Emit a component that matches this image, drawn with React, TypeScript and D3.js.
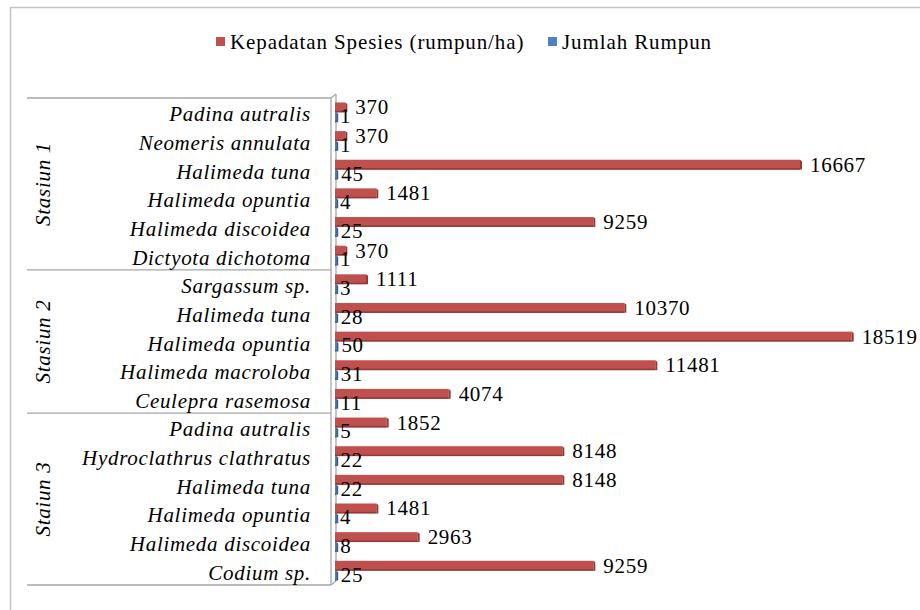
import { useEffect, useRef } from 'react';
import * as d3 from 'd3';

// Data (top to bottom)
const groups = ['Stasiun 1', 'Stasiun 2', 'Staiun 3'];
const groupSizes = [6, 5, 6];
const species = [
  'Padina autralis', 'Neomeris annulata', 'Halimeda tuna', 'Halimeda opuntia', 'Halimeda discoidea', 'Dictyota dichotoma',
  'Sargassum sp.', 'Halimeda tuna', 'Halimeda opuntia', 'Halimeda macroloba', 'Ceulepra rasemosa',
  'Padina autralis', 'Hydroclathrus clathratus', 'Halimeda tuna', 'Halimeda opuntia', 'Halimeda discoidea', 'Codium sp.',
];
const kepadatan = [370, 370, 16667, 1481, 9259, 370, 1111, 10370, 18519, 11481, 4074, 1852, 8148, 8148, 1481, 2963, 9259];
const jumlah = [1, 1, 45, 4, 25, 1, 3, 28, 50, 31, 11, 5, 22, 22, 4, 8, 25];
const seriesNames = ['Kepadatan Spesies (rumpun/ha)', 'Jumlah Rumpun'];
const seriesColors = ['#c0504d', '#4f81bd'];
const seriesDark = ['#8e3b39', '#385d8a'];

const W = 920;
const H = 610;
const FONT = '"Liberation Serif", "DejaVu Serif", "Times New Roman", serif';

export default function App() {
  const svgRef = useRef<SVGSVGElement>(null);

  useEffect(() => {
    if (!svgRef.current) return;
    const svg = d3.select(svgRef.current);
    svg.selectAll('*').remove();

    const rows = species.map((s, i) => ({ key: String(i), name: s, k: kepadatan[i], j: jumlah[i] }));

    const y = d3.scaleBand<string>()
      .domain(rows.map(r => r.key))
      .range([98, 585])
      .padding(0);
    const sub = d3.scaleBand<string>()
      .domain(['k', 'j'])
      .range([0, y.bandwidth()])
      .paddingInner(0)
      .paddingOuter(0.45);
    const x = d3.scaleLinear().domain([0, 20000]).range([335, 893]);

    const txt = (sel: any) => sel
      .style('font-size', '21px')
      .attr('letter-spacing', 0.7)
      .attr('fill', '#000');

    // outer chart border (runs off the picture to the right and bottom)
    svg.append('rect')
      .attr('x', 10.5).attr('y', 7.5)
      .attr('width', 1000).attr('height', 1000)
      .attr('fill', 'none')
      .attr('stroke', '#c4c4c4')
      .attr('stroke-width', 1.5);

    // legend
    const legendX = [216, 548];
    seriesNames.forEach((name, i) => {
      svg.append('rect')
        .attr('x', legendX[i]).attr('y', 37)
        .attr('width', 9).attr('height', 9)
        .attr('fill', seriesColors[i]);
      svg.append('text')
        .attr('x', legendX[i] + 14).attr('y', 42)
        .attr('dominant-baseline', 'central')
        .call(txt)
        .attr('letter-spacing', 0.9)
        .text(name);
    });

    // 3D wall edge of the category axis
    const y0 = y.range()[0];
    const y1 = y.range()[1];
    const axisColor = '#a6a6a6';
    const wall = svg.append('g').attr('stroke', axisColor).attr('stroke-width', 1.3).attr('fill', 'none');
    wall.append('line').attr('x1', 331).attr('x2', 331).attr('y1', y0).attr('y2', y1);
    wall.append('line').attr('x1', 336).attr('x2', 336).attr('y1', y0 - 4).attr('y2', y1 - 4);
    wall.append('line').attr('x1', 331).attr('x2', 336).attr('y1', y0).attr('y2', y0 - 4);
    wall.append('line').attr('x1', 331).attr('x2', 336).attr('y1', y1).attr('y2', y1 - 4);

    // group separators
    let idx = 0;
    const bounds = [0];
    groupSizes.forEach(n => { idx += n; bounds.push(idx); });
    bounds.forEach(b => {
      const yy = b < rows.length ? (y(String(b)) as number) : y1;
      svg.append('line')
        .attr('x1', 27).attr('x2', 331)
        .attr('y1', yy).attr('y2', yy)
        .attr('stroke', axisColor)
        .attr('stroke-width', 1.3);
    });

    // group labels
    groups.forEach((g, gi) => {
      const top = y(String(bounds[gi])) as number;
      const bot = bounds[gi + 1] < rows.length ? (y(String(bounds[gi + 1])) as number) : y1;
      const cy = (top + bot) / 2;
      svg.append('text')
        .attr('transform', `translate(43,${cy}) rotate(-90)`)
        .attr('text-anchor', 'middle')
        .attr('dominant-baseline', 'central')
        .call(txt)
        .style('font-style', 'italic')
        .text(g);
    });

    // category labels
    svg.append('g')
      .selectAll('text')
      .data(rows)
      .join('text')
      .attr('x', 311)
      .attr('y', d => (y(d.key) as number) + y.bandwidth() / 2 + 2)
      .attr('text-anchor', 'end')
      .attr('dominant-baseline', 'central')
      .call(txt)
      .style('font-style', 'italic')
      .text(d => d.name);

    // bars
    const drawBars = (key: 'k' | 'j', si: number) => {
      const bh = sub.bandwidth();
      const g = svg.append('g');
      rows.forEach(r => {
        const v = r[key];
        const by = (y(r.key) as number) + (sub(key) as number);
        const bx = x(0);
        const bw = Math.max(1.2, x(v) - x(0));
        g.append('rect')
          .attr('x', bx).attr('y', by)
          .attr('width', bw).attr('height', bh)
          .attr('fill', seriesColors[si]);
        // darker underside and end cap for the 3D look
        g.append('rect')
          .attr('x', bx).attr('y', by + bh - 1.5)
          .attr('width', bw).attr('height', 1.5)
          .attr('fill', seriesDark[si]);
        g.append('path')
          .attr('d', `M${bx + bw},${by} l2,1.5 v${bh - 1.5} h-2 z`)
          .attr('fill', seriesDark[si]);
      });
    };
    drawBars('k', 0);
    drawBars('j', 1);

    // data labels
    svg.append('g')
      .selectAll('text')
      .data(rows)
      .join('text')
      .attr('x', d => x(d.k) + 10)
      .attr('y', d => (y(d.key) as number) + (sub('k') as number) + sub.bandwidth() / 2)
      .attr('dominant-baseline', 'central')
      .call(txt)
      .text(d => d.k);

    svg.append('g')
      .selectAll('text')
      .data(rows)
      .join('text')
      .attr('x', d => x(d.j) + 5)
      .attr('y', d => (y(d.key) as number) + (sub('j') as number) + sub.bandwidth() / 2 - 1)
      .attr('dominant-baseline', 'central')
      .call(txt)
      .text(d => d.j);
  }, []);

  return (
    <div style={{ position: 'absolute', left: 0, top: 0 }}>
      <svg ref={svgRef} width={W} height={H} style={{ display: 'block', background: '#fff', fontFamily: FONT }} />
    </div>
  );
}
